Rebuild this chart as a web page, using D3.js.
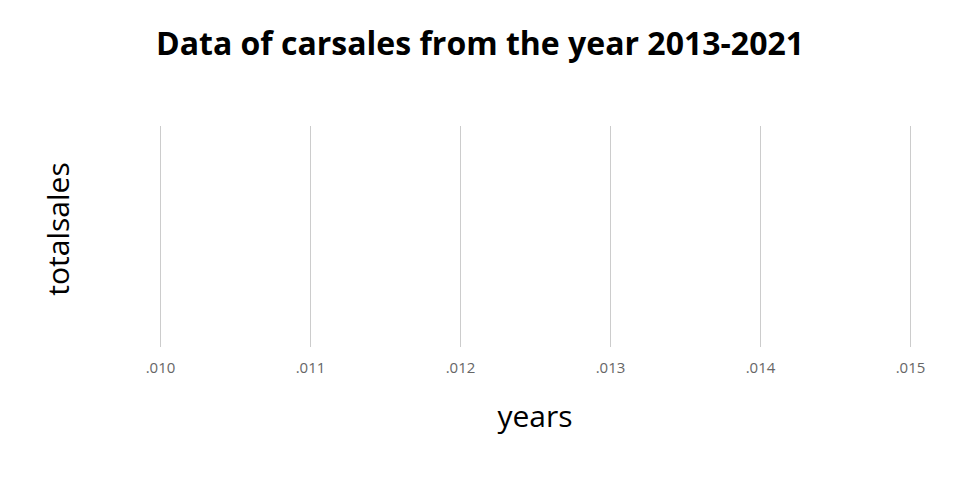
<!DOCTYPE html>
<html><head><meta charset="utf-8">
<script src="https://cdn.jsdelivr.net/npm/d3@7"></script>
<style>body{margin:0;background:#fff}svg{display:block}</style>
</head><body>
<svg id="chart" width="960" height="500"></svg>
<script>
const title = "Data of carsales from the year 2013-2021";
const xLabel = "years";
const yLabel = "totalsales";
const years = [];
const totalsales = [];
const xTicks = [0.010, 0.011, 0.012, 0.013, 0.014, 0.015];
const xTickLabels = [".010", ".011", ".012", ".013", ".014", ".015"];

const svg = d3.select("#chart");
const font = "'Open Sans', sans-serif";
const m = {left:160, right:50, top:126, bottom:153};
const W = 960, H = 500;
const x = d3.scaleLinear().domain([0.010, 0.015]).range([m.left, W - m.right]);
const y = d3.scaleLinear().domain([0, 1]).range([H - m.bottom, m.top]);

svg.append("text").attr("x", 480).attr("y", 55).attr("text-anchor", "middle")
  .attr("font-family", font).attr("font-weight", "bold").attr("font-size", 32)
  .attr("fill", "#000").text(title);

const xAxis = d3.axisBottom(x).tickValues(xTicks)
  .tickFormat((d, i) => xTickLabels[i]).tickSize(-(y.range()[0] - y.range()[1])).tickPadding(15);
const gx = svg.append("g").attr("transform", `translate(0,${y.range()[0]})`).call(xAxis);
gx.select(".domain").remove();
gx.selectAll(".tick line").attr("stroke", "#ccc").attr("stroke-width", 1);
gx.selectAll(".tick text").attr("font-family", font).attr("font-size", 15).attr("fill", "#666");

svg.append("g").selectAll("circle").data(years.map((d, i) => [d, totalsales[i]]))
  .join("circle").attr("cx", d => x(d[0])).attr("cy", d => y(d[1])).attr("r", 3);

svg.append("text").attr("x", x(0.0125)).attr("y", 427).attr("text-anchor", "middle")
  .attr("font-family", font).attr("font-size", 30).attr("fill", "#000").text(xLabel);

svg.append("text").attr("transform", "translate(69,229) rotate(-90)")
  .attr("text-anchor", "middle").attr("font-family", font).attr("font-size", 30)
  .attr("fill", "#000").text(yLabel);
</script>
</body></html>
